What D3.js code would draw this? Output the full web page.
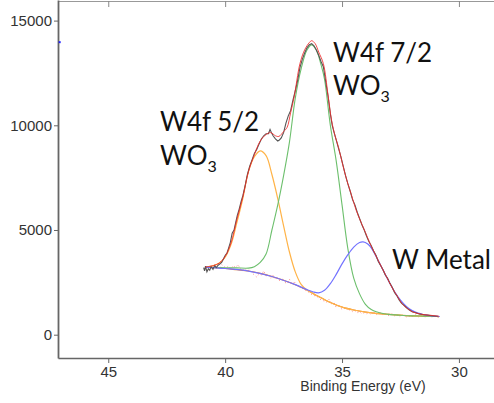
<!DOCTYPE html>
<html><head><meta charset="utf-8">
<script src="https://cdn.jsdelivr.net/npm/d3@7"></script>
<style>
html,body{margin:0;padding:0;background:#fff;}
svg{display:block;}
</style></head>
<body>
<svg id="chart" width="494" height="403"></svg>
<script>
// ---- data (binding energy eV, counts) ----
const xTicks = [45, 40, 35, 30];
const yTicks = [0, 5000, 10000, 15000];
const xLabel = "Binding Energy (eV)";

const background = [[40.85,3230],[40.5,3200],[40,3160],[39.5,3100],[39,3040],[38.5,2930],[38,2780],[37.5,2600],[37,2380],[36.5,2130],[36,1820],[35.5,1540],[35,1320],[34.5,1180],[34,1080],[33.5,1010],[33,970],[32.5,930],[32,900],[31.5,885],[31,870],[30.85,865]];

const peak52 = [[40.85,3230],[40.5,3300],[40.25,3420],[40,3700],[39.75,4300],[39.5,5350],[39.25,6480],[39,7800],[38.75,8500],[38.5,8780],[38.25,8550],[38,7650],[37.75,6500],[37.5,5200],[37.25,3950],[37,3000],[36.75,2400],[36.5,2130],[36,1820],[35.5,1540],[35,1320],[34.5,1180],[34,1080],[33.5,1010],[33,970],[32.5,930],[32,900],[31.5,885],[31,870],[30.85,865]];

const peak72 = [[40.85,3230],[40.5,3210],[40,3200],[39.5,3190],[39,3180],[38.75,3250],[38.5,3450],[38.25,3850],[38,5000],[37.75,6200],[37.5,7600],[37.25,9200],[37,11300],[36.75,12700],[36.5,13600],[36.3,13840],[36.1,13600],[35.9,12900],[35.75,12200],[35.5,10000],[35.25,8300],[35,6200],[34.75,4100],[34.5,2700],[34.25,1950],[34,1450],[33.75,1200],[33.5,1080],[33.25,1010],[33,970],[32.5,930],[32,900],[31.5,885],[31,870],[30.85,865]];

const metal = [[40.85,3230],[40,3160],[39,3040],[38,2780],[37,2390],[36.5,2150],[36.25,2050],[36,2000],[35.75,2120],[35.5,2440],[35.25,2880],[35,3380],[34.75,3820],[34.5,4180],[34.25,4400],[34.1,4430],[33.9,4330],[33.75,4150],[33.5,3650],[33.25,3100],[33,2550],[32.75,2050],[32.5,1650],[32.25,1350],[32,1150],[31.75,1030],[31.5,960],[31.25,910],[31,880],[30.82,870]];

const envelope = [[40.85,3230],[40.5,3300],[40.25,3420],[40,3740],[39.75,4380],[39.5,5500],[39.25,6550],[39,7800],[38.75,8600],[38.5,9250],[38.25,9560],[38.05,9650],[37.85,9500],[37.7,9470],[37.5,9700],[37.35,9900],[37.2,10600],[37.05,11350],[36.8,12950],[36.6,13600],[36.4,13950],[36.3,14040],[36.15,13900],[36,13500],[35.8,12950],[35.6,11450],[35.45,10250],[35.3,9500],[35.15,8950],[35,8250],[34.8,7390],[34.6,6680],[34.4,5960],[34.2,5400],[34,4880],[33.8,4350],[33.67,4045],[33.5,3650],[33.25,3100],[33,2550],[32.8,2135],[32.6,1780],[32.45,1500],[32.2,1250],[32,1100],[31.75,1010],[31.5,960],[31.25,930],[31,900],[30.85,880]];

const measured = [[40.92,3200],[40.88,3050],[40.84,3280],[40.78,3000],[40.72,3150],[40.66,3080],[40.6,3250],[40.52,3120],[40.45,3300],[40.38,3200],[40.3,3320],[40.22,3380],[40.15,3450],[40.08,3600],[40,3780],[39.92,3900],[39.85,4150],[39.78,4400],[39.7,4850],[39.62,5000],[39.55,5350],[39.48,5700],[39.4,6000],[39.32,6350],[39.24,6650],[39.15,7100],[39.05,7650],[38.95,8050],[38.85,8350],[38.75,8650],[38.65,8850],[38.55,9100],[38.45,9350],[38.35,9500],[38.25,9600],[38.15,9600],[38.08,9800],[38.02,9650],[37.95,9500],[37.85,9350],[37.75,9250],[37.68,9300],[37.6,9400],[37.5,9650],[37.4,10100],[37.3,10450],[37.2,10700],[37.1,11200],[37,11650],[36.9,12150],[36.8,12750],[36.7,13150],[36.6,13450],[36.5,13700],[36.4,13850],[36.3,13900],[36.2,13800],[36.1,13600],[36,13350],[35.9,13050],[35.8,12800],[35.7,12100],[35.6,11400],[35.5,10550],[35.42,10000],[35.35,9700],[35.25,9300],[35.15,8900],[35.05,8500],[34.95,8050],[34.85,7600],[34.75,7200],[34.65,6850],[34.55,6450],[34.45,6200],[34.35,5850],[34.25,5550],[34.15,5250],[34.05,5000],[33.95,4700],[33.85,4450],[33.75,4250],[33.65,4000],[33.55,3800],[33.45,3500],[33.35,3300],[33.25,3100],[33.15,2850],[33.05,2700],[32.95,2450],[32.85,2250],[32.75,2000],[32.65,1850],[32.55,1650],[32.45,1500],[32.35,1400],[32.25,1300],[32.15,1200],[32,1100],[31.85,1050],[31.7,990],[31.5,950],[31.3,930],[31.1,900],[30.9,880]];

const residual = [[40.85,3150],[40.75,3050],[40.65,3250],[40.55,3180],[40.45,3300],[40.35,3200],[40.25,3150],[40.15,3350],[40.05,3250],[39.95,3200],[39.85,3280],[39.75,3150],[39.65,3300],[39.55,3200],[39.45,3350],[39.35,3150],[39.25,3050],[39.15,3150],[39.05,3050],[38.95,3100],[38.85,2950],[38.75,2850],[38.65,2750],[38.55,2900],[38.45,2850],[38.35,3050],[38.25,2800],[38.15,2850],[38.05,2700],[37.95,2850],[37.85,2650],[37.75,2700],[37.65,2550],[37.55,2700],[37.45,2500],[37.35,2450],[37.25,2650],[37.15,2400],[37.05,2550],[36.95,2350],[36.85,2300],[36.75,2250],[36.65,2200],[36.55,2100],[36.45,2050],[36.35,1950],[36.25,1900],[36.15,1850],[36.05,1800],[35.95,1700],[35.85,1650],[35.75,1600],[35.65,1550],[35.55,1700],[35.45,1450],[35.35,1550],[35.25,1300],[35.15,1450],[35.05,1250],[34.95,1200],[34.85,1300],[34.75,1150],[34.65,1200],[34.55,1100],[34.45,1150],[34.35,1050],[34.25,1100],[34.15,1000],[34.05,1050],[33.95,1000],[33.85,1050],[33.75,950],[33.65,1100],[33.55,950],[33.45,1000],[33.35,1050],[33.25,950],[33.15,1000],[33.05,900],[32.95,950],[32.85,1000],[32.75,900],[32.65,950],[32.55,850],[32.45,950],[32.35,900],[32.25,850],[32.15,900],[32.05,850],[31.95,900],[31.85,950],[31.75,850],[31.6,900],[31.45,850],[31.3,900],[31.15,850],[31,880],[30.9,860]];

const strayPoint = [[47.1, 13970]];

// ---- chart ----
const padL = 58, padR = 494, padT = 0, padB = 358;
const svg = d3.select("#chart");

const x = d3.scaleLinear().domain([47.15, 28.5]).range([padL, padR]);
const y = d3.scaleLinear().domain([-1113, 15984]).range([padB, padT]);

const smooth = d3.line().x(d => x(d[0])).y(d => y(d[1])).curve(d3.curveCatmullRom.alpha(0.5));
const rough = d3.line().x(d => x(d[0])).y(d => y(d[1])).curve(d3.curveLinear);

const g = svg.append("g");

// top border with inner ticks
const topAxis = g.append("g").attr("transform", `translate(0,${padT + 1})`)
  .call(d3.axisTop(x).tickValues(xTicks).tickSizeInner(-6).tickSizeOuter(0).tickFormat(""));
topAxis.select(".domain").attr("stroke", "#999").attr("stroke-width", 1);
topAxis.selectAll(".tick line").attr("stroke", "#888");

// bottom axis
const xAxis = g.append("g").attr("transform", `translate(0,${padB})`)
  .call(d3.axisBottom(x).tickValues(xTicks).tickSizeInner(5).tickSizeOuter(0).tickPadding(3).tickFormat(d3.format("d")));
xAxis.select(".domain").attr("stroke", "#666").attr("stroke-width", 1.5);
xAxis.selectAll(".tick line").attr("stroke", "#666");
xAxis.selectAll("text").attr("font-family", "Liberation Sans, Arial, sans-serif").attr("font-size", 15).attr("fill", "#333");

// left axis
const yAxis = g.append("g").attr("transform", `translate(${padL},0)`)
  .call(d3.axisLeft(y).tickValues(yTicks).tickSizeInner(4).tickSizeOuter(0).tickPadding(2).tickFormat(d3.format("d")));
yAxis.select(".domain").attr("stroke", "#666").attr("stroke-width", 1.8);
yAxis.selectAll(".tick line").attr("stroke", "#666");
yAxis.selectAll("text").attr("font-family", "Liberation Sans, Arial, sans-serif").attr("font-size", 15).attr("fill", "#333");

g.append("text").attr("x", 363).attr("y", 391).attr("text-anchor", "middle")
  .attr("font-family", "Liberation Sans, Arial, sans-serif").attr("font-size", 14).attr("fill", "#333")
  .text(xLabel);

// series
const plot = g.append("g");
plot.append("path").datum(background).attr("d", smooth).attr("fill", "none").attr("stroke", "#e8802a").attr("stroke-width", 1.1);
plot.append("path").datum(residual).attr("d", rough).attr("fill", "none").attr("stroke", "#ff7070").attr("stroke-width", 1).attr("stroke-opacity", 0.8).attr("stroke-dasharray", "1,2.5");
plot.append("path").datum(peak52).attr("d", smooth).attr("fill", "none").attr("stroke", "#ffb347").attr("stroke-width", 1.2);
plot.append("path").datum(peak72).attr("d", smooth).attr("fill", "none").attr("stroke", "#6cbf6c").attr("stroke-width", 1.1);
plot.append("path").datum(metal).attr("d", smooth).attr("fill", "none").attr("stroke", "#7373ff").attr("stroke-width", 1.2);
plot.append("path").datum(measured).attr("d", rough).attr("fill", "none").attr("stroke", "#555").attr("stroke-width", 1.1);
plot.append("path").datum(envelope).attr("d", smooth).attr("fill", "none").attr("stroke", "#ee2a2a").attr("stroke-width", 1).attr("stroke-opacity", 0.85);

plot.selectAll("rect.stray").data(strayPoint).enter().append("rect").attr("class", "stray")
  .attr("x", d => x(d[0]) - 0.5).attr("y", d => y(d[1]) - 1).attr("width", 2).attr("height", 2).attr("fill", "#2222ff");

// annotations
const ann = g.append("g").attr("font-family", "Lato, 'Open Sans', sans-serif").attr("fill", "#111");
function label(xp, yp, main, sub) {
  const t = ann.append("text").attr("x", xp).attr("y", yp).attr("font-size", 26);
  t.append("tspan").text(main);
  if (sub) t.append("tspan").attr("font-size", 16).attr("dy", 7).text(sub);
}
label(160, 131, "W4f 5/2");
label(160, 165, "WO", "3");
label(333, 62, "W4f 7/2");
label(333, 95, "WO", "3");
label(392, 269, "W Metal");
</script>
</body></html>
